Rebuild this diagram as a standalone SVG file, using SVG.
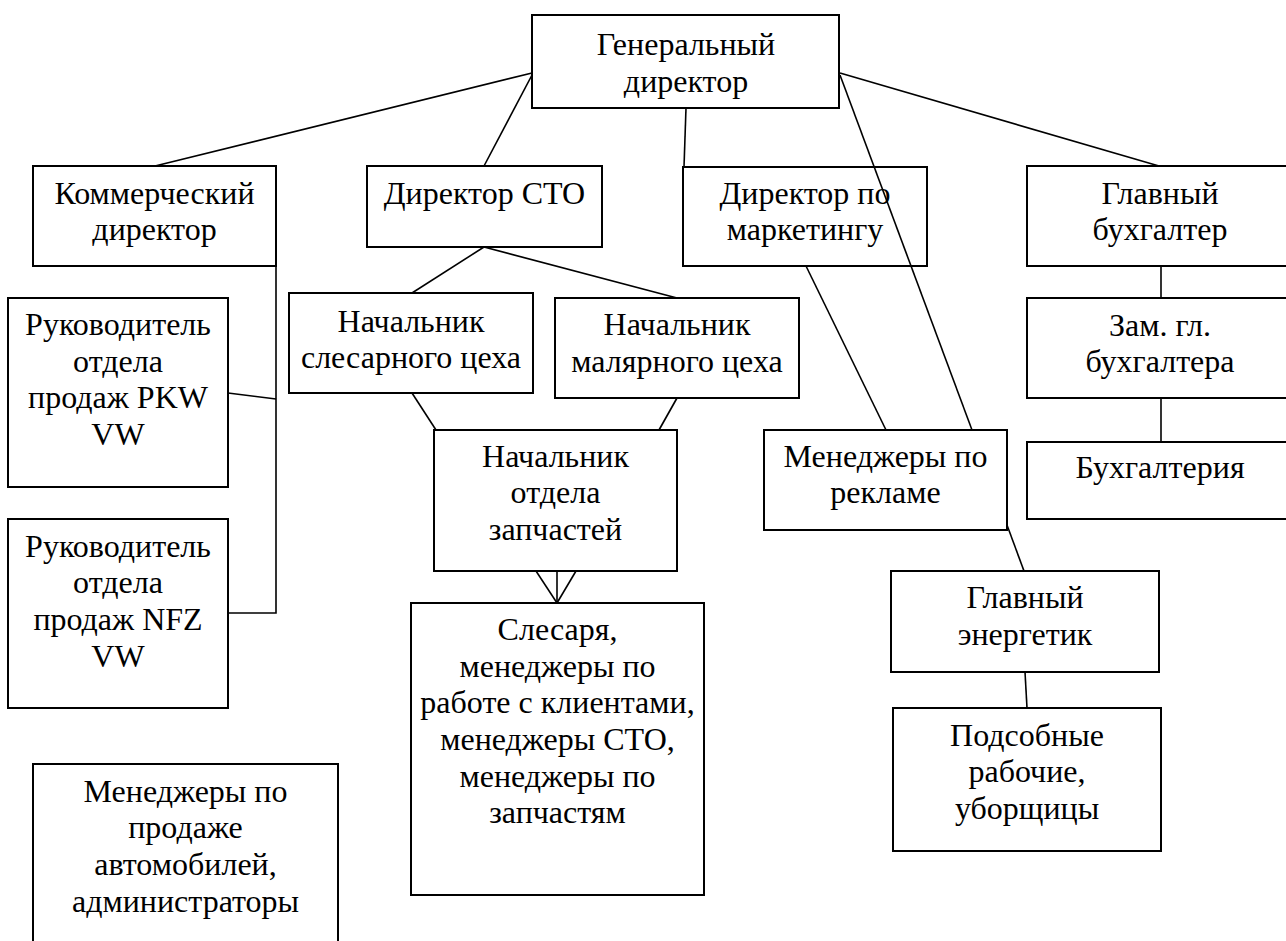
<svg xmlns="http://www.w3.org/2000/svg" width="1286" height="941" viewBox="0 0 1286 941">
<style>
.box{fill:#fff;stroke:#000;stroke-width:2}
.ln{stroke:#000;stroke-width:1.6;fill:none}
.t{font-size:32px;fill:#000;text-anchor:middle}
</style>
<rect width="1286" height="941" fill="#fff"/>
<g id="gen-dir"><rect class="box" x="532" y="15" width="307" height="93"/><text class="t" font-family="Liberation Serif" x="686" y="55">Генеральный</text><text class="t" font-family="Liberation Serif" x="686" y="91.7">директор</text></g>
<g id="comm-dir"><rect class="box" x="33" y="166" width="243" height="100"/><text class="t" font-family="Liberation Serif" x="154.5" y="204">Коммерческий</text><text class="t" font-family="Liberation Serif" x="154.5" y="240">директор</text></g>
<g id="sto-dir"><rect class="box" x="367" y="166" width="235" height="81"/><text class="t" font-family="Liberation Serif" x="484.5" y="204">Директор СТО</text></g>
<g id="mkt-dir"><rect class="box" x="683" y="167" width="244" height="99"/><text class="t" font-family="Liberation Serif" x="805" y="204">Директор по</text><text class="t" font-family="Liberation Serif" x="805" y="240">маркетингу</text></g>
<g id="chief-acc"><rect class="box" x="1027" y="166" width="267" height="100"/><text class="t" font-family="Liberation Serif" x="1160" y="204">Главный</text><text class="t" font-family="Liberation Serif" x="1160" y="240">бухгалтер</text></g>
<g id="dep-acc"><rect class="box" x="1027" y="298" width="267" height="100"/><text class="t" font-family="Liberation Serif" x="1160" y="336">Зам. гл.</text><text class="t" font-family="Liberation Serif" x="1160" y="372">бухгалтера</text></g>
<g id="accounting"><rect class="box" x="1027" y="442" width="267" height="77"/><text class="t" font-family="Liberation Serif" x="1160" y="478">Бухгалтерия</text></g>
<g id="pkw"><rect class="box" x="8" y="298" width="220" height="189"/><text class="t" font-family="Liberation Serif" x="118" y="335">Руководитель</text><text class="t" font-family="Liberation Serif" x="118" y="371.7">отдела</text><text class="t" font-family="Liberation Serif" x="118" y="408.3">продаж PKW</text><text class="t" font-family="Liberation Serif" x="118" y="445">VW</text></g>
<g id="nfz"><rect class="box" x="8" y="519" width="220" height="189"/><text class="t" font-family="Liberation Serif" x="118" y="556.7">Руководитель</text><text class="t" font-family="Liberation Serif" x="118" y="593.3">отдела</text><text class="t" font-family="Liberation Serif" x="118" y="630">продаж NFZ</text><text class="t" font-family="Liberation Serif" x="118" y="666.7">VW</text></g>
<g id="sales-mgrs"><rect class="box" x="33" y="764" width="305" height="190"/><text class="t" font-family="Liberation Serif" x="185.5" y="801.7">Менеджеры по</text><text class="t" font-family="Liberation Serif" x="185.5" y="838.3">продаже</text><text class="t" font-family="Liberation Serif" x="185.5" y="875">автомобилей,</text><text class="t" font-family="Liberation Serif" x="185.5" y="911.7">администраторы</text></g>
<g id="locksmith-head"><rect class="box" x="289" y="293" width="244" height="100"/><text class="t" font-family="Liberation Serif" x="411" y="331.7">Начальник</text><text class="t" font-family="Liberation Serif" x="411" y="368.3">слесарного цеха</text></g>
<g id="paint-head"><rect class="box" x="555" y="298" width="244" height="100"/><text class="t" font-family="Liberation Serif" x="677" y="335">Начальник</text><text class="t" font-family="Liberation Serif" x="677" y="371.7">малярного цеха</text></g>
<g id="parts-head"><rect class="box" x="434" y="430" width="243" height="141"/><text class="t" font-family="Liberation Serif" x="555.5" y="466.7">Начальник</text><text class="t" font-family="Liberation Serif" x="555.5" y="503.3">отдела</text><text class="t" font-family="Liberation Serif" x="555.5" y="540">запчастей</text></g>
<g id="workers"><rect class="box" x="411" y="603" width="293" height="292"/><text class="t" font-family="Liberation Serif" x="557.5" y="640">Слесаря,</text><text class="t" font-family="Liberation Serif" x="557.5" y="676.7">менеджеры по</text><text class="t" font-family="Liberation Serif" x="557.5" y="713.3">работе с клиентами,</text><text class="t" font-family="Liberation Serif" x="557.5" y="750">менеджеры СТО,</text><text class="t" font-family="Liberation Serif" x="557.5" y="786.7">менеджеры по</text><text class="t" font-family="Liberation Serif" x="557.5" y="823.3">запчастям</text></g>
<g id="ad-mgrs"><rect class="box" x="764" y="430" width="243" height="100"/><text class="t" font-family="Liberation Serif" x="885.5" y="466.7">Менеджеры по</text><text class="t" font-family="Liberation Serif" x="885.5" y="503.3">рекламе</text></g>
<g id="energy"><rect class="box" x="891" y="571" width="268" height="101"/><text class="t" font-family="Liberation Serif" x="1025" y="608.3">Главный</text><text class="t" font-family="Liberation Serif" x="1025" y="645">энергетик</text></g>
<g id="helpers"><rect class="box" x="893" y="708" width="268" height="143"/><text class="t" font-family="Liberation Serif" x="1027" y="745.7">Подсобные</text><text class="t" font-family="Liberation Serif" x="1027" y="782.3">рабочие,</text><text class="t" font-family="Liberation Serif" x="1027" y="819">уборщицы</text></g>
<g id="connectors">
<line class="ln" x1="532" y1="73" x2="155" y2="166"/>
<line class="ln" x1="532" y1="75" x2="484" y2="166"/>
<line class="ln" x1="686" y1="108" x2="684" y2="167"/>
<line class="ln" x1="840" y1="73" x2="1159" y2="166"/>
<line class="ln" x1="840" y1="75" x2="972" y2="430"/>
<polyline class="ln" points="276,266 276,613 228,613"/>
<line class="ln" x1="228" y1="393" x2="276" y2="399"/>
<line class="ln" x1="484" y1="247" x2="412" y2="293"/>
<line class="ln" x1="484" y1="247" x2="677" y2="298"/>
<line class="ln" x1="412" y1="393" x2="436" y2="430"/>
<line class="ln" x1="677" y1="398" x2="659" y2="430"/>
<line class="ln" x1="536" y1="571" x2="557" y2="603"/>
<line class="ln" x1="557" y1="571" x2="557" y2="603"/>
<line class="ln" x1="576" y1="571" x2="557" y2="603"/>
<line class="ln" x1="806" y1="266" x2="886" y2="430"/>
<line class="ln" x1="1007" y1="525" x2="1024" y2="571"/>
<line class="ln" x1="1025" y1="672" x2="1027" y2="708"/>
<line class="ln" x1="1161" y1="266" x2="1161" y2="298"/>
<line class="ln" x1="1161" y1="398" x2="1161" y2="442"/>
</g>
</svg>
